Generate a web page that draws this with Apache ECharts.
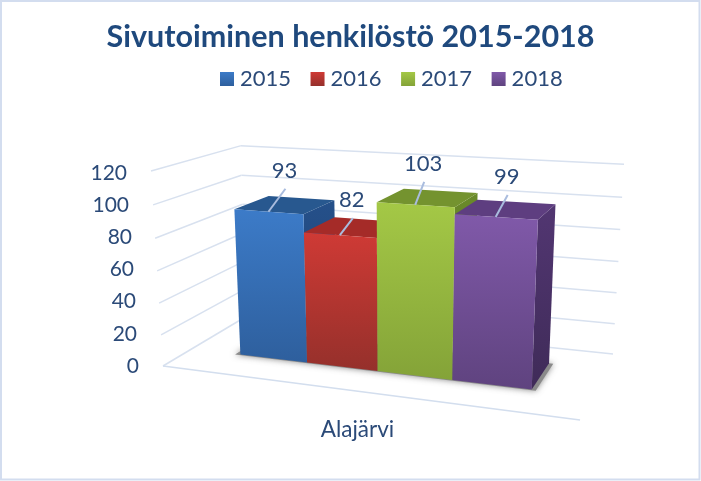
<!DOCTYPE html>
<html><head><meta charset="utf-8">
<style>html,body{margin:0;padding:0;background:#fff}#c{width:701px;height:481px}</style>
<script src="https://cdn.jsdelivr.net/npm/echarts@6/dist/echarts.min.js"></script>
</head><body><div id="c"></div>
<script>
const titleText = 'Sivutoiminen henkilöstö 2015-2018';
const categories = ['Alajärvi'];
const years = ['2015', '2016', '2017', '2018'];
const values2015 = [93];
const values2016 = [82];
const values2017 = [103];
const values2018 = [99];
const yTicks = [0, 20, 40, 60, 80, 100, 120];

// styles
const TEXT = '#2b4a78';
const faces = [
  {front: ['#3c7bc8', '#2e5f9d'], top: '#28588f', side: ['#25508a', '#1f4270']},
  {front: ['#cf3a35', '#95302b'], top: '#a52b28', side: ['#8c2522', '#6e1d1b']},
  {front: ['#a4c846', '#84a338'], top: '#74932f', side: ['#6a8a2a', '#566f22']},
  {front: ['#8059a9', '#5f437f'], top: '#5e3e80', side: ['#523672', '#3f2b58']}
];
const labelPadding = {0: 0, 20: 2, 40: 3, 60: 5, 80: 7, 100: 10, 120: 12};
const leaders = [[17, -23], [13, -17], [9, -23], [12, -22]];

// 3D view: floor homography plus a height vector
const A = 327.6, B = 121.8, C = 163, D = -10.8, E = -1.59, F = 366, G = -0.1542, H = 0.1532;
const ZX = -19.34, ZY = -203.3, ZW = -0.0486, TILT = 6;
const BAR = 0.1826, V_FRONT = 0.315, V_BACK = 0.735, CENTER = 0.504;
function proj(u, v, w) {
  const d = G * u + H * v + 1 + w * ZW;
  return [(A * u + B * v + C + w * ZX) / d,
          (D * u + E * v + F + w * ZY) / d + TILT * u * w];
}
const grad = c => ({type: 'linear', x: 0, y: 0, x2: 0, y2: 1,
  colorStops: [{offset: 0, color: c[0]}, {offset: 1, color: c[1]}]});
const poly = (pts, fill, extra) => ({type: 'polygon', shape: {points: pts},
  style: Object.assign({fill: fill}, extra || {})});
const line = (p, q, color, width) => ({type: 'line',
  shape: {x1: p[0], y1: p[1], x2: q[0], y2: q[1]},
  style: {stroke: color, lineWidth: width}});

function scaleW(params, api, value) {
  const cs = params.coordSys;
  return (cs.y + cs.height - api.coord([0, value])[1]) / cs.height;
}
function scaleU(params, api) {
  const cs = params.coordSys;
  return (api.coord([0, 0])[0] - cs.x) / cs.width - 0.5 + CENTER;
}

function renderFrame(params, api) {
  const tick = api.value(1);
  const w = scaleW(params, api, tick);
  const GRID = '#d8e1ef';
  const kids = [
    line(proj(0, 0, w), proj(0, 1, w), GRID, 1.5),
    line(proj(0, 1, w), proj(1, 1, w), GRID, 1.5)
  ];
  if (tick === 0) {
    kids.push(line(proj(0, 0, 0), proj(1, 0, 0), '#d3deee', 1.5));
    const n = years.length, c = scaleU(params, api);
    const u0 = c - BAR * n / 2 - 0.012, u1 = c + BAR * n / 2 + 0.01;
    kids.push(poly([proj(u0, V_FRONT - 0.012, 0), proj(u1, V_FRONT - 0.012, 0),
                    proj(u1, V_BACK, 0), proj(u0, V_BACK, 0)], '#8a8a8a',
      {shadowBlur: 6, shadowColor: 'rgba(90,90,90,0.7)'}));
  }
  return {type: 'group', children: kids};
}

function renderBar(index) {
  return function (params, api) {
    const val = api.value(1);
    const w = scaleW(params, api, val);
    const c = scaleU(params, api);
    const n = years.length;
    const u0 = c + (index - n / 2) * BAR, u1 = u0 + BAR;
    const f = faces[index];
    const fl0 = proj(u0, V_FRONT, 0), fr0 = proj(u1, V_FRONT, 0), br0 = proj(u1, V_BACK, 0);
    const flt = proj(u0, V_FRONT, w), frt = proj(u1, V_FRONT, w);
    const brt = proj(u1, V_BACK, w), blt = proj(u0, V_BACK, w);
    const mid = proj((u0 + u1) / 2, V_FRONT, w);
    const L = leaders[index];
    const tip = [mid[0] + L[0], mid[1] + L[1]];
    return {type: 'group', children: [
      poly([fr0, br0, brt, frt], grad(f.side)),
      poly([flt, frt, brt, blt], f.top),
      poly([fl0, fr0, frt, flt], grad(f.front)),
      line(mid, tip, '#a9bcde', 2),
      {type: 'text', style: {text: String(val), x: tip[0] - 1, y: tip[1] - 18,
        align: 'center', verticalAlign: 'middle', fill: TEXT,
        font: '22px Lato'}}
    ]};
  };
}

const allValues = [values2015, values2016, values2017, values2018];
const rich = {};
yTicks.forEach(t => { rich['p' + t] = {padding: [0, labelPadding[t], 0, 0],
  color: TEXT, fontFamily: 'Lato', fontSize: 21}; });

const option = {
  animation: false,
  backgroundColor: '#fff',
  graphic: [{type: 'rect', shape: {x: 1, y: 1, width: 698.5, height: 478.5},
    style: {fill: 'none', stroke: '#d3ddef', lineWidth: 2}, silent: true}],
  title: {text: titleText, left: 'center', top: 17,
    textStyle: {fontFamily: 'Lato', fontWeight: 'bold', fontSize: 30.5, color: '#1f497d'}},
  legend: {data: years, left: 215, top: 63, itemWidth: 14, itemHeight: 14, itemGap: 19.5,
    textStyle: {fontFamily: 'Lato', fontSize: 22, color: TEXT, padding: [0, 0, 0, 1]},
    icon: 'rect', selectedMode: false},
  grid: {left: 139, right: 125, top: 173, bottom: 115, containLabel: false},
  xAxis: {type: 'category', data: categories, axisLine: {show: false}, axisTick: {show: false},
    axisLabel: {margin: 52, fontFamily: 'Lato', fontSize: 22.5, color: TEXT}},
  yAxis: {type: 'value', min: 0, max: 120, interval: 20, splitLine: {show: false},
    axisLine: {show: false}, axisTick: {show: false},
    axisLabel: {margin: 0, formatter: v => '{p' + v + '|' + v + '}', rich: rich}},
  series: [{type: 'custom', name: 'frame', renderItem: renderFrame, encode: {x: 0, y: 1},
      data: yTicks.map(t => [categories[0], t]), silent: true}]
    .concat(years.map((y, i) => ({
      type: 'custom', name: y, renderItem: renderBar(i), encode: {x: 0, y: 1},
      itemStyle: {color: grad(faces[i].front)},
      data: allValues[i].map((v, k) => [categories[k], v])
    })))
};
const chart = echarts.init(document.getElementById('c'), null, {renderer: 'canvas'});
chart.setOption(option);
</script></body></html>
